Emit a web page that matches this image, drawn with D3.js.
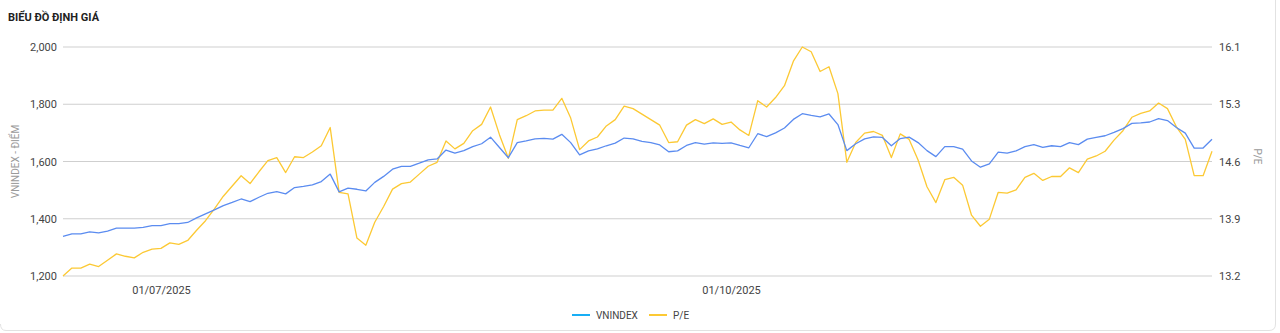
<!DOCTYPE html>
<html>
<head>
<meta charset="utf-8">
<script src="https://cdn.jsdelivr.net/npm/d3@7"></script>
<style>
  html, body { margin: 0; padding: 0; background: #fff; }
  body { width: 1280px; height: 333px; overflow: hidden; font-family: Roboto, "Noto Sans", Arial, sans-serif; }
  svg { display: block; }
</style>
</head>
<body>
<div id="chart"></div>
<script>
// VNINDEX (điểm) theo phiên
const vnindex = [
  1338, 1347, 1347, 1354, 1351, 1357, 1367, 1367, 1367, 1370,
  1376, 1376, 1383, 1383, 1387, 1403, 1417, 1431, 1446, 1457,
  1469, 1460, 1475, 1489, 1495, 1487, 1509, 1513, 1518, 1530,
  1556, 1494, 1507, 1503, 1497, 1527, 1548, 1573, 1583, 1583,
  1594, 1606, 1609, 1640, 1629, 1638, 1652, 1662, 1685, 1649,
  1613, 1666, 1672, 1679, 1681, 1678, 1695, 1666, 1623, 1637,
  1644, 1655, 1664, 1682, 1679, 1670, 1666, 1658, 1634, 1637,
  1656, 1666, 1661, 1665, 1663, 1665, 1656, 1648, 1697, 1687,
  1700, 1717, 1747, 1767, 1761, 1756, 1766, 1729, 1638, 1662,
  1679, 1686, 1684, 1655, 1680, 1685, 1666, 1638, 1617, 1652,
  1652, 1643, 1602, 1580, 1592, 1633, 1629, 1637, 1652, 1659,
  1649, 1655, 1652, 1666, 1659, 1678, 1684, 1690, 1702, 1715,
  1733, 1735, 1738, 1750, 1743, 1719, 1699, 1647, 1647, 1678
];

// P/E
const pe = [
  13.20, 13.30, 13.30, 13.35, 13.32, 13.40, 13.48, 13.45, 13.43, 13.50,
  13.54, 13.55, 13.62, 13.60, 13.65, 13.78, 13.90, 14.05, 14.21, 14.34,
  14.47, 14.37, 14.52, 14.66, 14.70, 14.51, 14.71, 14.70, 14.77, 14.85,
  15.08, 14.26, 14.24, 13.68, 13.59, 13.88, 14.08, 14.30, 14.37, 14.39,
  14.49, 14.59, 14.64, 14.91, 14.81, 14.88, 15.04, 15.12, 15.34, 14.99,
  14.69, 15.18, 15.23, 15.29, 15.30, 15.30, 15.45, 15.20, 14.80, 14.91,
  14.96, 15.10, 15.18, 15.35, 15.32, 15.25, 15.18, 15.11, 14.89, 14.90,
  15.11, 15.18, 15.13, 15.19, 15.12, 15.15, 15.05, 14.98, 15.42, 15.34,
  15.46, 15.61, 15.92, 16.10, 16.04, 15.79, 15.85, 15.51, 14.64, 14.89,
  15.01, 15.03, 14.98, 14.70, 15.00, 14.93, 14.67, 14.33, 14.13, 14.42,
  14.45, 14.35, 13.97, 13.83, 13.92, 14.26, 14.25, 14.29, 14.45, 14.50,
  14.41, 14.46, 14.46, 14.57, 14.51, 14.68, 14.72, 14.78, 14.92, 15.04,
  15.21, 15.26, 15.29, 15.39, 15.32, 15.09, 14.93, 14.47, 14.47, 14.78
];

// Nhãn trục
const leftTicks = [1200, 1400, 1600, 1800, 2000];
const rightDomain = [13.2, 16.1];
const rightTickLabels = ["13.2", "13.9", "14.6", "15.3", "16.1"];
const xTickIndex = [11, 75];
const xTickLabels = ["01/07/2025", "01/10/2025"];
const seriesNames = ["VNINDEX", "P/E"];

const width = 1280, height = 333;
const margin = { top: 47, right: 68, bottom: 57, left: 63 };
const innerWidth = width - margin.left - margin.right;
const innerHeight = height - margin.top - margin.bottom;

const colBlue = "#5b8cf0", colYellow = "#fcc934", colLegendBlue = "#18aef5";
const fontFam = "Roboto, 'Noto Sans', Arial, sans-serif";

const root = d3.select("#chart").append("svg").attr("width", width).attr("height", height)
    .style("font-family", fontFam);

// Khung thẻ (chỉ viền phải + dưới, bo góc)
root.append("path")
    .attr("d", "M1275.5,0 V324 Q1275.5,330.5 1269,330.5 H6 Q0.5,330.5 0.5,324")
    .attr("fill", "none").attr("stroke", "#e2e2e2");

root.append("text").attr("x", 8).attr("y", 21)
    .style("font-size", "11px").style("font-weight", "700").attr("fill", "#222")
    .text("BIỂU ĐỒ ĐỊNH GIÁ");

const svg = root.append("g").attr("transform", `translate(${margin.left},${margin.top})`);

const x = d3.scaleLinear().domain([0, vnindex.length - 1]).range([0, innerWidth]);
const yL = d3.scaleLinear().domain([1200, 2000]).range([innerHeight, 0]);
const yR = d3.scaleLinear().domain(rightDomain).range([innerHeight, 0]);

// Lưới
svg.append("g").selectAll("line").data(leftTicks).enter().append("line")
    .attr("x1", 0).attr("x2", innerWidth)
    .attr("y1", d => yL(d)).attr("y2", d => yL(d))
    .attr("stroke", "#cfcfcf").attr("stroke-width", 1);

// Trục trái
const axL = svg.append("g").call(d3.axisLeft(yL).tickValues(leftTicks).tickFormat(d3.format(",")).tickSize(0).tickPadding(6));
axL.select(".domain").remove();
axL.attr("font-family", fontFam).selectAll("text").style("font-size", "11px").attr("fill", "#444");

// Trục phải
const rightVals = d3.range(5).map(i => rightDomain[0] + (rightDomain[1] - rightDomain[0]) * i / 4);
const axR = svg.append("g").attr("transform", `translate(${innerWidth},0)`)
    .call(d3.axisRight(yR).tickValues(rightVals).tickFormat((d, i) => rightTickLabels[i]).tickSize(0).tickPadding(7));
axR.select(".domain").remove();
axR.attr("font-family", fontFam).selectAll("text").style("font-size", "11px").attr("fill", "#444");

// Trục x
const axX = svg.append("g").attr("transform", `translate(0,${innerHeight})`)
    .call(d3.axisBottom(x).tickValues(xTickIndex).tickFormat((d, i) => xTickLabels[i]).tickSize(0).tickPadding(10));
axX.select(".domain").remove();
axX.attr("font-family", fontFam).selectAll("text").style("font-size", "11px").attr("fill", "#444");

// Tiêu đề trục
root.append("text").attr("transform", `translate(19,${margin.top + innerHeight / 2}) rotate(-90)`)
    .attr("text-anchor", "middle").style("font-size", "10px").attr("fill", "#9a9a9a")
    .text("VNINDEX - ĐIỂM");
root.append("text").attr("transform", `translate(1254,${margin.top + innerHeight / 2 - 5}) rotate(90)`)
    .attr("text-anchor", "middle").style("font-size", "10px").attr("fill", "#9a9a9a")
    .text("P/E");

// Đường
const lineL = d3.line().x((d, i) => x(i)).y(d => yL(d));
const lineR = d3.line().x((d, i) => x(i)).y(d => yR(d));

svg.append("path").datum(pe).attr("d", lineR)
    .attr("fill", "none").attr("stroke", colYellow).attr("stroke-width", 1.3).attr("stroke-linejoin", "round");
svg.append("path").datum(vnindex).attr("d", lineL)
    .attr("fill", "none").attr("stroke", colBlue).attr("stroke-width", 1.3).attr("stroke-linejoin", "round");

// Chú giải
const legend = root.append("g").attr("transform", "translate(572,315)");
const legendCols = [colLegendBlue, colYellow];
const legendX = [0, 77];
seriesNames.forEach((name, i) => {
  const g = legend.append("g").attr("transform", `translate(${legendX[i]},0)`);
  g.append("line").attr("x1", 0).attr("x2", 18).attr("y1", 0).attr("y2", 0)
      .attr("stroke", legendCols[i]).attr("stroke-width", 2);
  g.append("text").attr("x", 24).attr("y", 3.5).style("font-size", "10px").attr("fill", "#444").text(name);
});
</script>
</body>
</html>
